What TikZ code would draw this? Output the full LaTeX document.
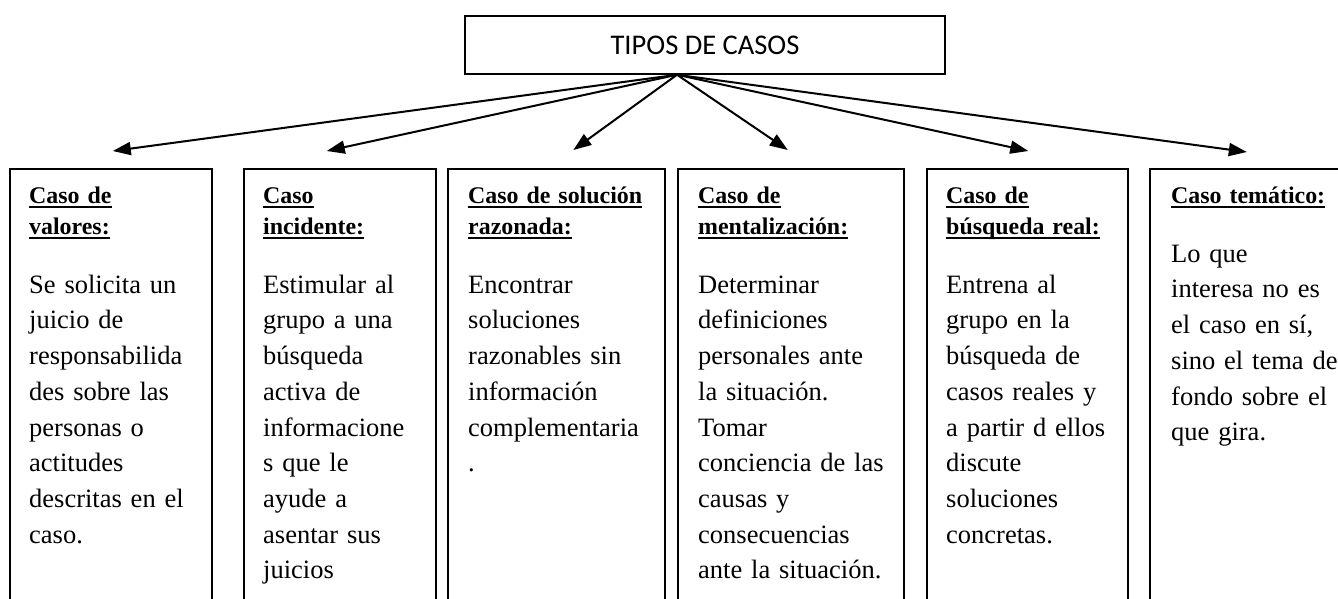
\documentclass[tikz,border=0pt]{standalone}
\usepackage{fontspec}
\setmainfont{Liberation Serif}
\newfontfamily\titlefont{Carlito}
\usetikzlibrary{arrows.meta}
\newsavebox\hulbox
\newcommand{\hul}[1]{\leavevmode\sbox\hulbox{#1}\rlap{\rule[-5pt]{\wd\hulbox}{2.3pt}}\usebox\hulbox}
\newcommand{\hstrut}{\rule{0pt}{22pt}}
\newcommand{\bstrut}{\rule{0pt}{24pt}}
\tikzset{
  casebox/.style={draw, line width=1.6pt, anchor=north west, minimum height=460pt, inner sep=0pt},
  headtxt/.style={anchor=north west, inner sep=0pt, text width=205pt, align=left,
    font=\fontsize{23.9}{31}\selectfont\bfseries},
  bodytxt/.style={anchor=north west, inner sep=0pt, text width=205pt, align=left,
    font=\fontsize{26.5}{35.7}\selectfont},
  titlebox/.style={draw, line width=1.5pt, inner sep=0pt, minimum width=480pt, minimum height=58pt,
    font=\titlefont\fontsize{28.5}{34}\selectfont},
  conn/.style={line width=2pt, -{Triangle[length=18pt,width=13pt]}}
}
\begin{document}
\begin{tikzpicture}[x=1pt,y=-1pt]
\useasboundingbox (0,0) rectangle (1338,598);
\clip (0,0) rectangle (1338,598);

% title
\node[titlebox] (t) at (705,45) {TIPOS DE CASOS};
\coordinate (o) at ([xshift=-28pt]t.south);

% boxes
\node[casebox, minimum width=202pt] (b1) at (9,168) {};
\node[casebox, minimum width=192pt] (b2) at (243,168) {};
\node[casebox, minimum width=217pt] (b3) at (447,168) {};
\node[casebox, minimum width=226pt] (b4) at (677,168) {};
\node[casebox, minimum width=201pt] (b5) at (926,168) {};
\node[casebox, minimum width=194pt] (b6) at (1149,168) {};

% headings
\node[headtxt] (h1) at (29,181) {\hstrut\hul{Caso de}\\\hul{valores:}};
\node[headtxt] (h2) at (263,181) {\hstrut\hul{Caso}\\\hul{incidente:}};
\node[headtxt] (h3) at (468,181) {\hstrut\hul{Caso de solución}\\\hul{razonada:}};
\node[headtxt] (h4) at (698,181) {\hstrut\hul{Caso de}\\\hul{mentalización:}};
\node[headtxt] (h5) at (946,181) {\hstrut\hul{Caso de}\\\hul{búsqueda real:}};
\node[headtxt] (h6) at (1171,181) {\hstrut\hul{Caso temático:}};

% bodies
\node[bodytxt] (t1) at (29,269) {\bstrut Se solicita un\\juicio de\\responsabilida\\des sobre las\\personas o\\actitudes\\descritas en el\\caso.};
\node[bodytxt] (t2) at (263,269) {\bstrut Estimular al\\grupo a una\\búsqueda\\activa de\\informacione\\s que le\\ayude a\\asentar sus\\juicios};
\node[bodytxt] (t3) at (468,269) {\bstrut Encontrar\\soluciones\\razonables sin\\información\\complementaria\\.};
\node[bodytxt] (t4) at (698,269) {\bstrut Determinar\\definiciones\\personales ante\\la situación.\\Tomar\\conciencia de las\\causas y\\consecuencias\\ante la situación.};
\node[bodytxt] (t5) at (946,269) {\bstrut Entrena al\\grupo en la\\búsqueda de\\casos reales y\\a partir d ellos\\discute\\soluciones\\concretas.};
\node[bodytxt] (t6) at (1171,238) {\bstrut Lo que\\interesa no es\\el caso en sí,\\sino el tema de\\fondo sobre el\\que gira.};

% arrow tips
\coordinate (a1) at ([xshift=2pt,yshift=17pt]b1.north);
\coordinate (a2) at ([xshift=-13pt,yshift=17pt]b2.north);
\coordinate (a3) at ([xshift=17pt,yshift=18pt]b3.north);
\coordinate (a4) at ([xshift=-3pt,yshift=18pt]b4.north);
\coordinate (a5) at ([xshift=1pt,yshift=17pt]b5.north);
\coordinate (a6) at ([xshift=0pt,yshift=16pt]b6.north);

\foreach \i in {1,...,6} \draw[conn] (o) -- (a\i);
\end{tikzpicture}
\end{document}
